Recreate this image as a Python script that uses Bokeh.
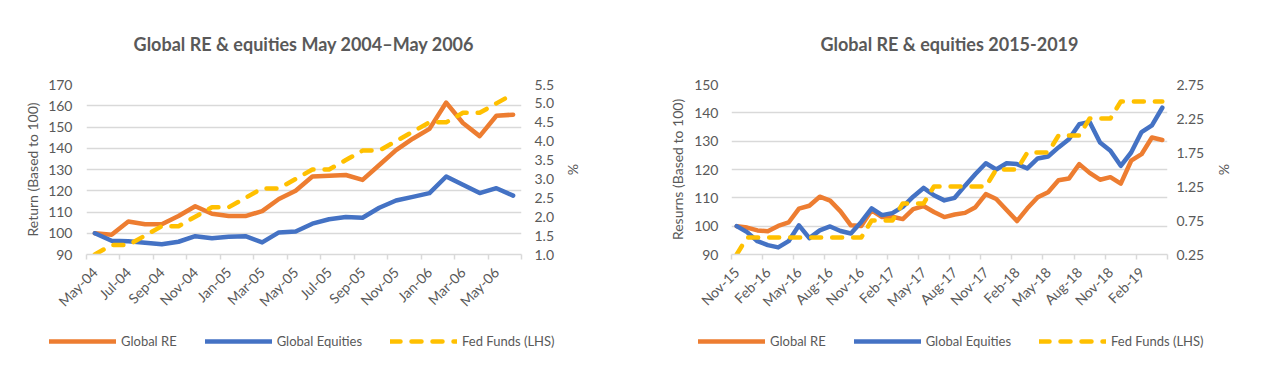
import math
import numpy as np
from bokeh.plotting import figure
from bokeh.models import (Range1d, LinearAxis, FixedTicker, NumeralTickFormatter,
                          CustomJSTickFormatter, Legend, LegendItem)
from bokeh.layouts import row, column
from bokeh.embed import file_html
from bokeh.resources import INLINE

# ---------------- Chart A: May 2004 - May 2006 ----------------
title_a = "Global RE & equities May 2004\u2013May 2006"
months_a = ["May-04", "Jun-04", "Jul-04", "Aug-04", "Sep-04", "Oct-04", "Nov-04", "Dec-04",
            "Jan-05", "Feb-05", "Mar-05", "Apr-05", "May-05", "Jun-05", "Jul-05", "Aug-05",
            "Sep-05", "Oct-05", "Nov-05", "Dec-05", "Jan-06", "Feb-06", "Mar-06", "Apr-06",
            "May-06", "Jun-06"]
re_a = [100.0, 99.3, 105.5, 104.2, 104.2, 108.1, 112.7, 109.2, 108.1, 108.1, 110.4, 116.1,
        120.0, 126.7, 127.1, 127.4, 125.1, 132.1, 139.1, 144.5, 149.1, 161.5, 151.9, 145.7,
        155.3, 155.8]
eq_a = [100.0, 96.5, 96.2, 95.5, 94.8, 96.0, 98.6, 97.6, 98.3, 98.6, 95.7, 100.4,
        100.8, 104.5, 106.6, 107.6, 107.3, 112.0, 115.4, 117.1, 118.9, 126.7, 122.8, 118.9,
        121.2, 117.7]
ff_a = [1.0, 1.25, 1.25, 1.5, 1.75, 1.75, 2.0, 2.25, 2.25, 2.5, 2.75, 2.75,
        3.0, 3.25, 3.25, 3.5, 3.75, 3.75, 4.0, 4.25, 4.5, 4.5, 4.75, 4.75,
        5.0, 5.25]
left_ticks_a = [90, 100, 110, 120, 130, 140, 150, 160, 170]
right_ticks_a = [1.0, 1.5, 2.0, 2.5, 3.0, 3.5, 4.0, 4.5, 5.0, 5.5]
label_step_a = 2
ylabel_a = "Return (Based to 100)"

# ---------------- Chart B: 2015 - 2019 ----------------
title_b = "Global RE & equities 2015-2019"
months_b = ["Nov-15", "Dec-15", "Jan-16", "Feb-16", "Mar-16", "Apr-16", "May-16", "Jun-16",
            "Jul-16", "Aug-16", "Sep-16", "Oct-16", "Nov-16", "Dec-16", "Jan-17", "Feb-17",
            "Mar-17", "Apr-17", "May-17", "Jun-17", "Jul-17", "Aug-17", "Sep-17", "Oct-17",
            "Nov-17", "Dec-17", "Jan-18", "Feb-18", "Mar-18", "Apr-18", "May-18", "Jun-18",
            "Jul-18", "Aug-18", "Sep-18", "Oct-18", "Nov-18", "Dec-18", "Jan-19", "Feb-19",
            "Mar-19", "Apr-19"]
re_b = [100.0, 99.5, 98.5, 98.2, 100.1, 101.3, 106.2, 107.2, 110.4, 109.0, 105.2, 100.3,
        100.1, 105.6, 103.2, 103.3, 102.5, 106.0, 107.1, 105.0, 103.2, 104.1, 104.7, 106.7,
        111.3, 109.6, 105.7, 101.8, 106.3, 110.2, 112.0, 116.2, 116.8, 121.9, 118.8, 116.4,
        117.3, 115.0, 123.1, 125.4, 131.3, 130.4]
eq_b = [100.0, 97.9, 94.7, 93.3, 92.5, 94.7, 100.3, 95.8, 98.5, 99.9, 98.3, 97.4,
        101.5, 106.3, 103.9, 104.6, 106.8, 110.4, 113.5, 110.9, 109.1, 110.0, 114.3, 118.4,
        122.2, 120.0, 122.2, 121.9, 120.4, 123.9, 124.6, 127.8, 130.7, 136.0, 136.8, 129.5,
        126.6, 121.3, 126.0, 133.2, 135.6, 141.8]
ff_b = [0.25, 0.5, 0.5, 0.5, 0.5, 0.5, 0.5, 0.5, 0.5, 0.5, 0.5, 0.5,
        0.5, 0.75, 0.75, 0.75, 1.0, 1.0, 1.0, 1.25, 1.25, 1.25, 1.25, 1.25,
        1.25, 1.5, 1.5, 1.5, 1.75, 1.75, 1.75, 2.0, 2.0, 2.0, 2.25, 2.25,
        2.25, 2.5, 2.5, 2.5, 2.5, 2.5]
left_ticks_b = [90, 100, 110, 120, 130, 140, 150]
right_ticks_b = [0.25, 0.75, 1.25, 1.75, 2.25, 2.75]
label_step_b = 3
ylabel_b = "Resurns (Based to 100)"

series_names = ["Global RE", "Global Equities", "Fed Funds (LHS)"]

ORANGE = "#ED7D31"
BLUE = "#4472C4"
YELLOW = "#FFC000"
GRID = "#D9D9D9"
TXT = "#595959"
FONT = "Lato"
STYLES = [dict(line_color=ORANGE, line_width=4.5, line_join="round", line_cap="round"),
          dict(line_color=BLUE, line_width=4.5, line_join="round", line_cap="round"),
          dict(line_color=YELLOW, line_width=4.5, line_dash="10 11",
               line_join="round", line_cap="round")]


def style_yaxis(ax, label, standoff, label_standoff):
    ax.axis_line_color = None
    ax.major_tick_line_color = None
    ax.minor_tick_line_color = None
    ax.major_tick_out = 0
    ax.major_tick_in = 0
    ax.minor_tick_out = 0
    ax.major_label_text_font = FONT
    ax.major_label_text_font_size = "14px"
    ax.major_label_text_color = TXT
    ax.major_label_standoff = standoff
    ax.axis_label = label
    ax.axis_label_text_font = FONT
    ax.axis_label_text_font_size = "14px"
    ax.axis_label_text_font_style = "normal"
    ax.axis_label_text_color = TXT
    ax.axis_label_standoff = label_standoff


def make_chart(title, months, re, eq, ff, lticks, rticks, rfmt, step, ylabel,
               bleft, bright, lstand, llab, rstand, rlab):
    n = len(months)
    x = np.arange(n) + 0.5
    p = figure(width=631, height=330, x_range=Range1d(0, n),
               y_range=Range1d(lticks[0], lticks[-1]),
               x_axis_type=None, output_backend="svg", toolbar_location=None,
               min_border_left=bleft, min_border_right=bright,
               min_border_top=82, min_border_bottom=76)
    p.outline_line_color = None
    p.background_fill_color = "white"
    p.border_fill_color = "white"

    # title
    p.title.text = title
    p.title.text_font = FONT
    p.title.text_font_style = "bold"
    p.title.text_font_size = "18px"
    p.title.text_color = TXT
    p.title.align = "center"
    p.title.standoff = 60

    # left axis
    ya = p.yaxis[0]
    ya.ticker = FixedTicker(ticks=lticks)
    style_yaxis(ya, ylabel, lstand, llab)
    p.ygrid.grid_line_color = GRID
    p.ygrid.grid_line_width = 1.3
    p.ygrid.ticker = FixedTicker(ticks=lticks)

    # right axis (fed funds)
    p.extra_y_ranges = {"ff": Range1d(rticks[0], rticks[-1])}
    ra = LinearAxis(y_range_name="ff", ticker=FixedTicker(ticks=rticks),
                    formatter=NumeralTickFormatter(format=rfmt))
    style_yaxis(ra, "%", rstand, rlab)
    p.add_layout(ra, "right")

    # bottom axis: labels at category centres, tick marks between categories
    xa = LinearAxis(ticker=FixedTicker(ticks=[i + 0.5 for i in range(0, n, step)],
                                       minor_ticks=list(range(0, n + 1, step))),
                    formatter=CustomJSTickFormatter(args=dict(labels=months),
                                                    code="return labels[Math.floor(tick)];"))
    xa.axis_line_color = GRID
    xa.axis_line_width = 1.5
    xa.major_tick_line_color = None
    xa.major_tick_in = 0
    xa.major_tick_out = 0
    xa.minor_tick_line_color = GRID
    xa.minor_tick_line_width = 1.5
    xa.minor_tick_in = 0
    xa.minor_tick_out = 5
    xa.major_label_orientation = math.pi / 4
    xa.major_label_text_font = FONT
    xa.major_label_text_font_size = "14px"
    xa.major_label_text_color = TXT
    xa.major_label_standoff = 10
    p.add_layout(xa, "below")

    p.line(x, re, **STYLES[0])
    p.line(x, eq, **STYLES[1])
    p.line(x, ff, y_range_name="ff", **STYLES[2])
    return p


def make_legend(x0, months, re, eq, ff):
    # legend strip: the series are drawn again far outside its (0, 1) range,
    # only their legend swatches show
    x = np.arange(len(months)) + 0.5
    lf = figure(width=631, height=28, x_range=Range1d(0, 1), y_range=Range1d(0, 1),
                x_axis_type=None, y_axis_type=None, output_backend="svg",
                toolbar_location=None, min_border=0)
    lf.outline_line_color = None
    lf.grid.visible = False
    rs = [lf.line(x, ys, **st) for ys, st in zip([re, eq, [v * 100 for v in ff]], STYLES)]
    legend = Legend(items=[LegendItem(label=nm, renderers=[r])
                           for nm, r in zip(series_names, rs)],
                    location=(x0, 9), orientation="horizontal",
                    glyph_width=67, glyph_height=16, label_standoff=5, spacing=28,
                    padding=0, margin=0, border_line_color=None,
                    background_fill_alpha=0, label_text_font=FONT,
                    label_text_font_size="13px", label_text_color=TXT)
    lf.add_layout(legend, "center")
    return lf


pa = make_chart(title_a, months_a, re_a, eq_a, ff_a, left_ticks_a, right_ticks_a, "0.0",
                label_step_a, ylabel_a, 86, 110, 14, 4, 13, 8)
pb = make_chart(title_b, months_b, re_b, eq_b, ff_b, left_ticks_b, right_ticks_b, "0.00",
                label_step_b, ylabel_b, 100, 95, 13, 5, 9, 9)
la = make_legend(49, months_a, re_a, eq_a, ff_a)
lb = make_legend(67, months_b, re_b, eq_b, ff_b)

layout = column(row(pa, pb), row(la, lb))
open("out.html", "w").write(file_html(layout, INLINE))
